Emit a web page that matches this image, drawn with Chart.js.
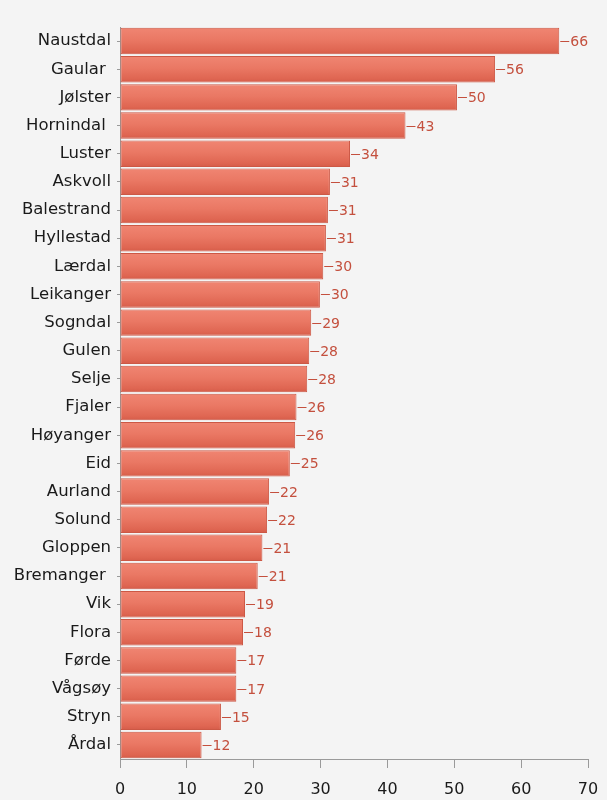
<!DOCTYPE html>
<html>
<head>
<meta charset="utf-8">
<script src="https://cdn.jsdelivr.net/npm/chart.js@4"></script>
<style>
  html, body { margin: 0; padding: 0; background: #f4f4f4; }
  #wrap { width: 607px; height: 800px; }
</style>
</head>
<body>
<div id="wrap"><canvas id="kommuner" width="607" height="800"></canvas></div>
<script>
// kommuner i Sogn og Fjordane
const kommuner = ['Naustdal', 'Gaular ', 'Jølster', 'Hornindal ', 'Luster', 'Askvoll',
  'Balestrand', 'Hyllestad', 'Lærdal', 'Leikanger', 'Sogndal', 'Gulen', 'Selje',
  'Fjaler', 'Høyanger', 'Eid', 'Aurland', 'Solund', 'Gloppen', 'Bremanger ', 'Vik',
  'Flora', 'Førde', 'Vågsøy', 'Stryn', 'Årdal'];
const verdier = [65.7, 56.1, 50.4, 42.7, 34.4, 31.4, 31.1, 30.8, 30.4, 29.9, 28.6, 28.3,
  28.0, 26.4, 26.2, 25.4, 22.3, 22.0, 21.3, 20.6, 18.7, 18.4, 17.4, 17.4, 15.1, 12.2];
const xTicks = [0, 10, 20, 30, 40, 50, 60, 70];

const AXIS = '#9a9a9a';
const RED_TEXT = '#c4503e';

Chart.defaults.font.family = "'DejaVu Sans', sans-serif";
Chart.defaults.font.size = 16;

// gradient per bar, built from the y scale position
function barFill(c) {
  const chart = c.chart;
  const ys = chart.scales.y;
  if (!chart.chartArea || !ys) return '#e6705c';
  const yc = ys.getPixelForValue(c.dataIndex);
  const h = (chart.chartArea.bottom - chart.chartArea.top) / kommuner.length * 0.94;
  const g = chart.ctx.createLinearGradient(0, yc - h / 2, 0, yc + h / 2);
  g.addColorStop(0, '#f08572');
  g.addColorStop(0.45, '#ea7864');
  g.addColorStop(0.85, '#df6652');
  g.addColorStop(1, '#d55c49');
  return g;
}

// small connector line + value next to each bar
const verdiEtiketter = {
  id: 'verdiEtiketter',
  afterDatasetsDraw(chart) {
    const ctx = chart.ctx;
    const meta = chart.getDatasetMeta(0);
    ctx.save();
    ctx.font = "14px 'DejaVu Sans', sans-serif";
    ctx.fillStyle = RED_TEXT;
    ctx.strokeStyle = RED_TEXT;
    ctx.lineWidth = 1;
    ctx.textBaseline = 'middle';
    ctx.textAlign = 'left';
    meta.data.forEach((bar, i) => {
      const y = Math.round(bar.y) + 0.5;
      ctx.beginPath();
      ctx.moveTo(bar.x + 1, y);
      ctx.lineTo(bar.x + 10, y);
      ctx.stroke();
      ctx.fillText(Math.round(verdier[i]), bar.x + 11, y + 1);
    });
    ctx.restore();
  }
};

new Chart(document.getElementById('kommuner').getContext('2d'), {
  type: 'bar',
  data: {
    labels: kommuner,
    datasets: [{
      data: verdier,
      backgroundColor: barFill,
      borderColor: '#cc5845',
      borderWidth: 1,
      borderSkipped: false,
      barPercentage: 0.94,
      categoryPercentage: 1
    }]
  },
  options: {
    indexAxis: 'y',
    responsive: false,
    animation: false,
    layout: { padding: { top: 27, right: 19, left: 0, bottom: 0 } },
    plugins: { legend: { display: false }, tooltip: { enabled: false } },
    scales: {
      y: {
        afterFit(scale) { scale.width = 120; },
        grid: { drawOnChartArea: false, offset: false, tickLength: 3, color: AXIS },
        border: { color: AXIS },
        ticks: { color: '#1a1a1a', padding: 6, autoSkip: false, font: { size: 16.5 } }
      },
      x: {
        min: 0,
        max: 70,
        afterFit(scale) {
          scale.height = 41;
          scale.paddingRight = 0;
          scale.paddingLeft = 0;
        },
        afterBuildTicks(scale) { scale.ticks = xTicks.map(v => ({ value: v })); },
        grid: { drawOnChartArea: false, tickLength: 9, color: AXIS },
        border: { color: AXIS },
        ticks: { color: '#1a1a1a', padding: 12, font: { size: 16 } }
      }
    }
  },
  plugins: [verdiEtiketter]
});
</script>
</body>
</html>
